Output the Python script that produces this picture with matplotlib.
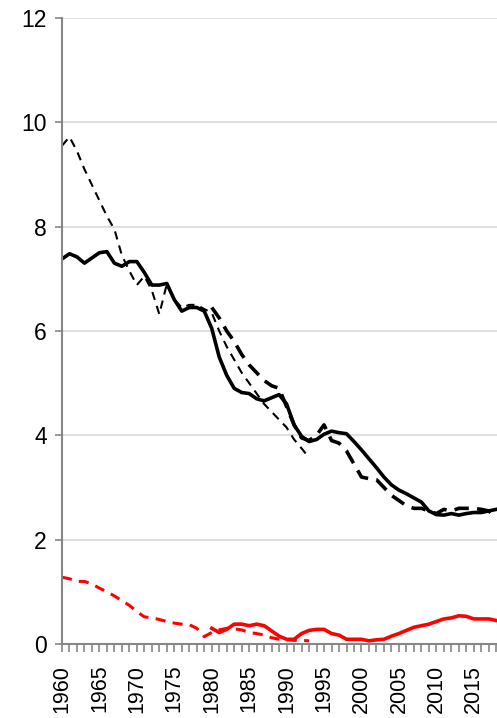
import matplotlib.pyplot as plt
from matplotlib.ticker import MultipleLocator

plt.rcParams['font.family'] = ['Liberation Sans', 'DejaVu Sans']

years = list(range(1960, 2019))

# thick solid black, 1960-2018
solid_black = [7.38, 7.48, 7.42, 7.30, 7.40, 7.50, 7.52, 7.30, 7.24, 7.33,
               7.33, 7.12, 6.88, 6.88, 6.91, 6.60, 6.38, 6.45, 6.45, 6.38,
               6.05, 5.50, 5.15, 4.90, 4.82, 4.80, 4.70, 4.66, 4.72, 4.78,
               4.60, 4.20, 3.98, 3.88, 3.92, 4.02, 4.08, 4.05, 4.03, 3.88,
               3.72, 3.55, 3.38, 3.20, 3.05, 2.95, 2.88, 2.80, 2.72, 2.55,
               2.48, 2.47, 2.50, 2.47, 2.50, 2.52, 2.52, 2.55, 2.58]

# thin dashed black, 1960-1993
thin_dash_years = list(range(1960, 1994))
thin_dash_black = [9.55, 9.72, 9.45, 9.10, 8.80, 8.50, 8.20, 7.95, 7.45, 7.15,
                   6.88, 7.05, 6.78, 6.32, 6.90, 6.60, 6.45, 6.50, 6.50, 6.42,
                   6.35, 6.00, 5.70, 5.45, 5.20, 5.00, 4.80, 4.60, 4.45, 4.30,
                   4.15, 3.92, 3.75, 3.57]

# thick dashed black, 1980-2018
thick_dash_years = list(range(1980, 2019))
thick_dash_black = [6.45, 6.25, 6.00, 5.80, 5.55, 5.35, 5.20, 5.05, 4.95, 4.90,
                    4.55, 4.20, 3.95, 3.90, 4.00, 4.20, 3.90, 3.85, 3.70, 3.45,
                    3.20, 3.17, 3.15, 3.00, 2.85, 2.75, 2.65, 2.60, 2.60, 2.55,
                    2.50, 2.58, 2.55, 2.60, 2.60, 2.60, 2.58, 2.55, 2.42]

# red dashed, 1960-1993
red_dash_years = list(range(1960, 1994))
red_dash = [1.28, 1.25, 1.20, 1.20, 1.15, 1.07, 1.00, 0.92, 0.83, 0.74,
            0.62, 0.52, 0.50, 0.47, 0.43, 0.40, 0.38, 0.37, 0.30, 0.14,
            0.22, 0.27, 0.30, 0.29, 0.27, 0.22, 0.20, 0.17, 0.12, 0.09,
            0.08, 0.07, 0.07, 0.06]

# red solid, 1980-2018
red_solid_years = list(range(1980, 2019))
red_solid = [0.30, 0.22, 0.28, 0.38, 0.38, 0.35, 0.38, 0.35, 0.25, 0.15,
             0.09, 0.09, 0.20, 0.26, 0.28, 0.28, 0.20, 0.17, 0.09, 0.09,
             0.09, 0.06, 0.08, 0.09, 0.15, 0.20, 0.26, 0.32, 0.35, 0.38,
             0.43, 0.48, 0.50, 0.54, 0.53, 0.48, 0.48, 0.48, 0.45]

fig = plt.figure(figsize=(4.97, 7.18), dpi=100)
ax = fig.add_axes([0.1247, 0.1031, 0.8753, 0.8719])

ax.plot(thin_dash_years, thin_dash_black, color='black', lw=1.5, dashes=(4, 3))
ax.plot(thick_dash_years, thick_dash_black, color='black', lw=2.6, dashes=(4, 2.3))
ax.plot(red_dash_years, red_dash, color='#ff0000', lw=2.2, dashes=(3.3, 2.4))
ax.plot(years, solid_black, color='black', lw=2.6, solid_joinstyle='round')
ax.plot(red_solid_years, red_solid, color='#ff0000', lw=2.6, solid_joinstyle='round')

ax.set_xlim(1960, 2018.1)
ax.set_ylim(0, 12)
ax.yaxis.set_major_locator(MultipleLocator(2))
ax.xaxis.set_major_locator(MultipleLocator(5))
ax.xaxis.set_minor_locator(MultipleLocator(1))
ax.grid(axis='y', color='#d9d9d9', lw=1.2)
ax.set_axisbelow(True)

for s in ['top', 'right']:
    ax.spines[s].set_visible(False)
for s in ['left', 'bottom']:
    ax.spines[s].set_color('#868686')
    ax.spines[s].set_linewidth(1.5)

ax.tick_params(axis='y', length=5, width=1.2, color='#868686', labelsize=16.5, pad=6)
ax.tick_params(axis='x', which='both', length=6, width=1.2, color='#868686', labelsize=15.5, pad=9)
for lbl in ax.get_xticklabels():
    lbl.set_rotation(90)

plt.savefig('out.png', dpi=100)
